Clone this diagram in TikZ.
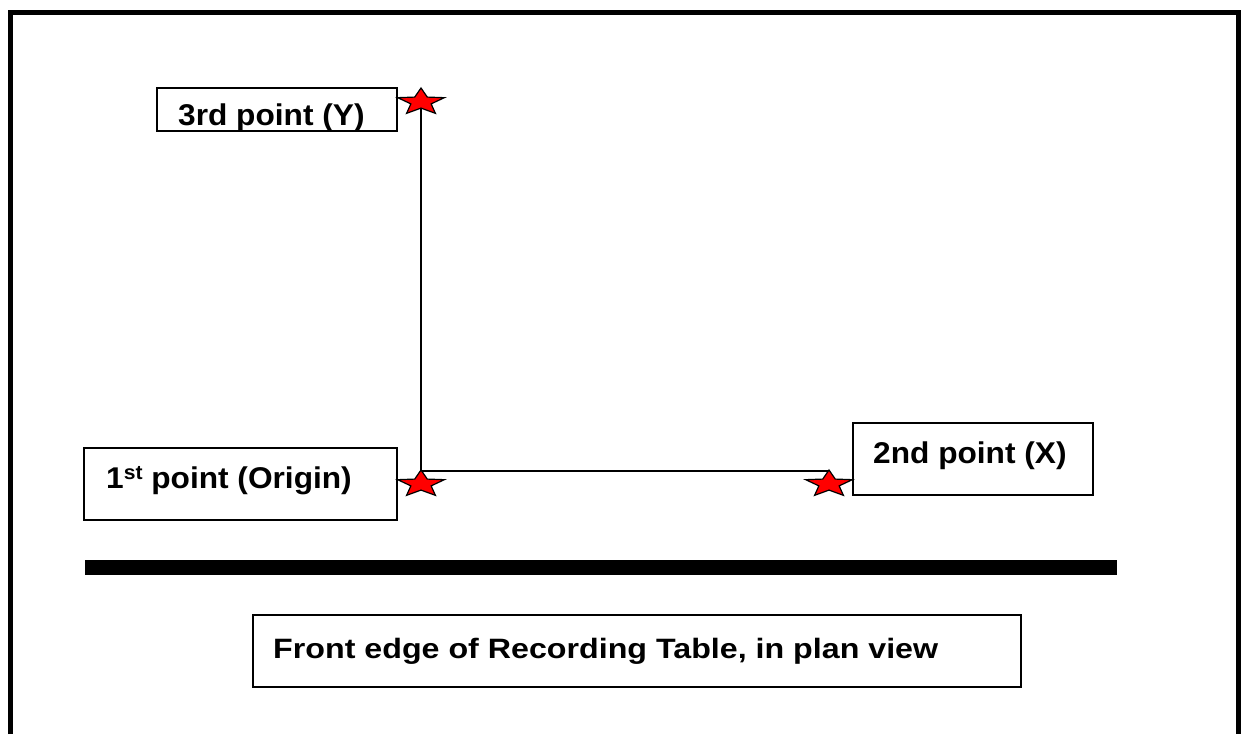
\documentclass[tikz,border=0pt]{standalone}
\usepackage{fontspec}
\setmainfont{Liberation Sans}
\usetikzlibrary{shapes.geometric}
\tikzset{
  frame/.style={line width=5pt},
  box/.style={draw, line width=2pt, rectangle, inner sep=0pt},
  lbl/.style={inner sep=0pt, font=\bfseries\fontsize{30}{32}\selectfont, transform shape, xscale=1.055},
  flbl/.style={inner sep=0pt, font=\bfseries\fontsize{28}{30}\selectfont, transform shape, xscale=1.15},
  redstar/.style={star, star points=5, star point ratio=2.3, draw=black, line width=1.2pt, fill=red, inner sep=0pt, minimum size=28pt, transform shape, xscale=1.75},
  axis/.style={line width=1.5pt}
}
\begin{document}
\begin{tikzpicture}[x=1pt,y=-1pt]
\useasboundingbox (0,0) rectangle (1241,734);
% outer frame (open at bottom)
\draw[frame] (10.5,734) -- (10.5,12.5) -- (1238.5,12.5) -- (1238.5,734);
% boxes
\node[box, minimum width=240pt, minimum height=43pt] (b3) at (277,109) {};
\node[box, minimum width=240pt, minimum height=72pt] (b2) at (973,459) {};
\node[box, minimum width=313pt, minimum height=72pt] (b1) at (240.5,484) {};
\node[box, minimum width=768pt, minimum height=72pt] (bf) at (637,651) {};
% labels
\node[lbl, anchor=base west] (t3) at (178,125) {3rd point (Y)};
\node[lbl, anchor=base west] (t2) at (873,463) {2nd point (X)};
\node[lbl, anchor=base west] (t1) at (106,488) {1{\fontsize{20}{22}\selectfont\raisebox{9pt}{st}} point (Origin)};
\node[flbl, anchor=base west] (tf) at (273,658) {Front edge of Recording Table, in plan view};
% thick table edge
\fill (85,560) rectangle (1117,575);
% axes
\coordinate (pY) at (421,102);
\coordinate (corner) at (421,471);
\coordinate (pO) at (421,484);
\coordinate (pX) at (829,484);
\coordinate (xend) at (829,471);
\draw[axis] (pY) -- (corner) -- (xend);
% stars
\node[redstar] (sY) at (pY) {};
\node[redstar] (sO) at (pO) {};
\node[redstar] (sX) at (pX) {};
\end{tikzpicture}
\end{document}
